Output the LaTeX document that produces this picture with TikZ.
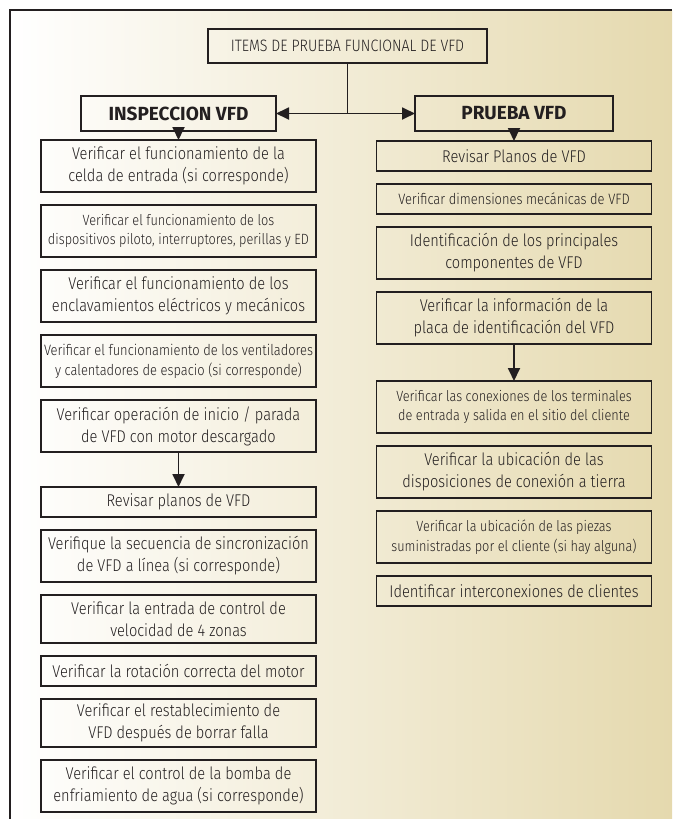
\documentclass[tikz,border=0pt]{standalone}
\usepackage{fontspec}
\setmainfont{Fira Sans}[UprightFont=* Light,BoldFont=* Bold,FakeStretch=0.86]
\newfontfamily\hdfont{Fira Sans}[BoldFont=* Bold]
\usepackage{xcolor}
\usepackage{tikz}
\usetikzlibrary{positioning,arrows.meta}
\definecolor{ink}{HTML}{231F20}
\definecolor{sand}{RGB}{229,217,174}

\begin{document}
\begin{tikzpicture}[
  x=1pt,y=-1pt,
  node distance=13pt,
  box/.style={draw=ink,line width=1.5pt,outer sep=0pt,align=center,inner sep=2pt,text=ink,font=\fontsize{17}{22}\selectfont},
  head/.style={box,minimum height=35pt,font=\hdfont\bfseries\fontsize{19}{21}\selectfont},
  lc/.style={box,minimum width=275pt},
  one/.style={minimum height=30pt},
  two/.style={minimum height=52pt},
  sm/.style={font=\fontsize{14.8}{19.5}\selectfont},
  md/.style={font=\fontsize{15}{20}\selectfont},
  ar/.style={->,draw=ink,line width=1.8pt},
  >={Triangle[length=13pt,width=12pt]}]
\useasboundingbox (0,0) rectangle (672,819);
\fill[left color=white,right color=sand] (10,10) rectangle (672,819);
\draw[ink,line width=1.4pt] (10,819) -- (10,10) -- (672,10);

\node[box,minimum width=279pt,minimum height=34pt,font=\fontsize{16.5}{18}\selectfont] (top) at (347.5,46) {ITEMS DE PRUEBA FUNCIONAL DE VFD};
\node[head,minimum width=195pt] (insp) at (178.5,113.5) {INSPECCION VFD};
\node[head,minimum width=198pt] (prue) at (514,113.5) {PRUEBA VFD};

\node[lc,two,below=9pt of insp] (i1) {Verificar el funcionamiento de la\\celda de entrada (si corresponde)};
\node[lc,two,sm,below=of i1] (i2) {Verificar el funcionamiento de los\\dispositivos piloto, interruptores, perillas y ED};
\node[lc,two,below=of i2] (i3) {Verificar el funcionamiento de los\\enclavamientos eléctricos y mecánicos};
\node[lc,two,md,below=of i3] (i4) {Verificar el funcionamiento de los ventiladores\\y calentadores de espacio (si corresponde)};
\node[lc,two,below=of i4] (i5) {Verificar operación de inicio / parada\\de VFD con motor descargado};
\node[lc,one,below=35pt of i5] (i6) {Revisar planos de VFD};
\node[lc,two,below=of i6] (i7) {Verifique la secuencia de sincronización\\de VFD a línea (si corresponde)};
\node[lc,two,minimum height=48pt,below=of i7] (i8) {Verificar la entrada de control de\\velocidad de 4 zonas};
\node[lc,one,below=of i8] (i9) {Verificar la rotación correcta del motor};
\node[lc,two,minimum height=48pt,below=of i9] (i10) {Verificar el restablecimiento de\\VFD después de borrar falla};
\node[lc,two,below=of i10] (i11) {Verificar el control de la bomba de\\enfriamiento de agua (si corresponde)};

\node[lc,one,below=10pt of prue] (p1) {Revisar Planos de VFD};
\node[lc,one,md,below=of p1] (p2) {Verificar dimensiones mecánicas de VFD};
\node[lc,two,below=of p2] (p3) {Identificación de los principales\\componentes de VFD};
\node[lc,two,below=of p3] (p4) {Verificar la información de la\\placa de identificación del VFD};
\node[lc,two,sm,below=37pt of p4] (p5) {Verificar las conexiones de los terminales\\de entrada y salida en el sitio del cliente};
\node[lc,two,below=of p5] (p6) {Verificar la ubicación de las\\disposiciones de conexión a tierra};
\node[lc,two,sm,below=of p6] (p7) {Verificar la ubicación de las piezas\\suministradas por el cliente (si hay alguna)};
\node[lc,one,below=of p7] (p8) {Identificar interconexiones de clientes};

\coordinate (jn) at (top.south |- insp.east);
\draw[ink,line width=1.8pt] (top.south) -- (jn);
\draw[ar] (jn) -- (insp.east); \draw[ar] (jn) -- (prue.west);
\draw[ar] (insp) -- (i1); \draw[ar] (prue) -- (p1);
\draw[ar] (i5) -- (i6); \draw[ar] (p4) -- (p5);
\end{tikzpicture}
\end{document}
